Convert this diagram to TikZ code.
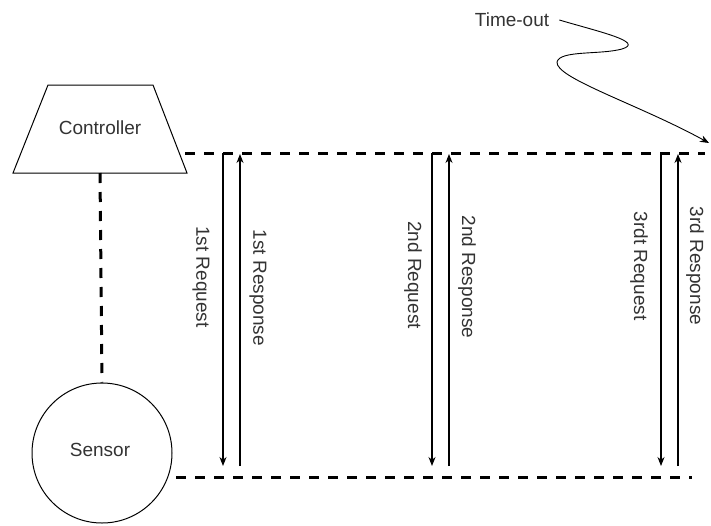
\documentclass[tikz,border=0pt]{standalone}
\usepackage{fontspec}
\setmainfont{Liberation Sans}
\usetikzlibrary{arrows.meta}
\begin{document}
\begin{tikzpicture}[x=1pt,y=-1pt,
  lbl/.style={font=\fontsize{19}{22}\selectfont, text=black!80, inner sep=0pt},
  vlbl/.style={lbl, rotate=-90},
  shapeline/.style={draw=black, line width=1pt},
  dline/.style={draw=black, line width=3pt, dash pattern=on 10pt off 9pt},
  msg/.style={draw=black, line width=1.1pt, -{Stealth[length=9pt,width=7pt]}}]
\useasboundingbox (0,0) rectangle (711,525);
% Controller
\draw[shapeline] (48,85) -- (153,85) -- (187,173) -- (13,173) -- cycle;
\node[lbl] (ctrl) at (100,128) {Controller};
\coordinate (ctrlB) at (100,173);
\coordinate (topL) at (185,153);
\coordinate (topR) at (705,153);
% Sensor
\node[circle, shapeline, minimum size=140pt, inner sep=0pt] (sensor) at (102,453) {};
\node[lbl] (sensorT) at (100,450) {Sensor};
\coordinate (botL) at (176,477);
\coordinate (botR) at (692,477);
% dashed lines
\draw[dline] (ctrlB) -- (sensor.north);
\draw[dline] (topL) -- (topR);
\draw[dline] (botL) -- (botR);
% message arrows
\coordinate (r1t) at (223,153); \coordinate (r1b) at (223,466);
\coordinate (s1b) at (240,466); \coordinate (s1t) at (240,154);
\coordinate (r2t) at (432,153); \coordinate (r2b) at (432,466);
\coordinate (s2b) at (449,466); \coordinate (s2t) at (449,154);
\coordinate (r3t) at (661,153); \coordinate (r3b) at (661,466);
\coordinate (s3b) at (678,466); \coordinate (s3t) at (678,154);
\draw[msg] (r1t) -- (r1b);
\draw[msg] (s1b) -- (s1t);
\draw[msg] (r2t) -- (r2b);
\draw[msg] (s2b) -- (s2t);
\draw[msg] (r3t) -- (r3b);
\draw[msg] (s3b) -- (s3t);
\node[vlbl] (l1) at (201,277) {1st Request};
\node[vlbl] (l2) at (258,288) {1st Response};
\node[vlbl] (l3) at (413,275) {2nd Request};
\node[vlbl] (l4) at (467,277) {2nd Response};
\node[vlbl] (l5) at (639,266) {3rdt Request};
\node[vlbl] (l6) at (695,266) {3rd Response};
% Time-out
\node[lbl] (to) at (512,20) {Time-out};
\coordinate (toTip) at (709,143);
\draw[msg, line width=0.9pt] ([xshift=10pt]to.east) .. controls (600,32) and (645,42) .. (622,49)
  .. controls (600,55) and (560,50) .. (557,62)
  .. controls (555,78) and (640,105) .. (toTip);
\end{tikzpicture}
\end{document}
